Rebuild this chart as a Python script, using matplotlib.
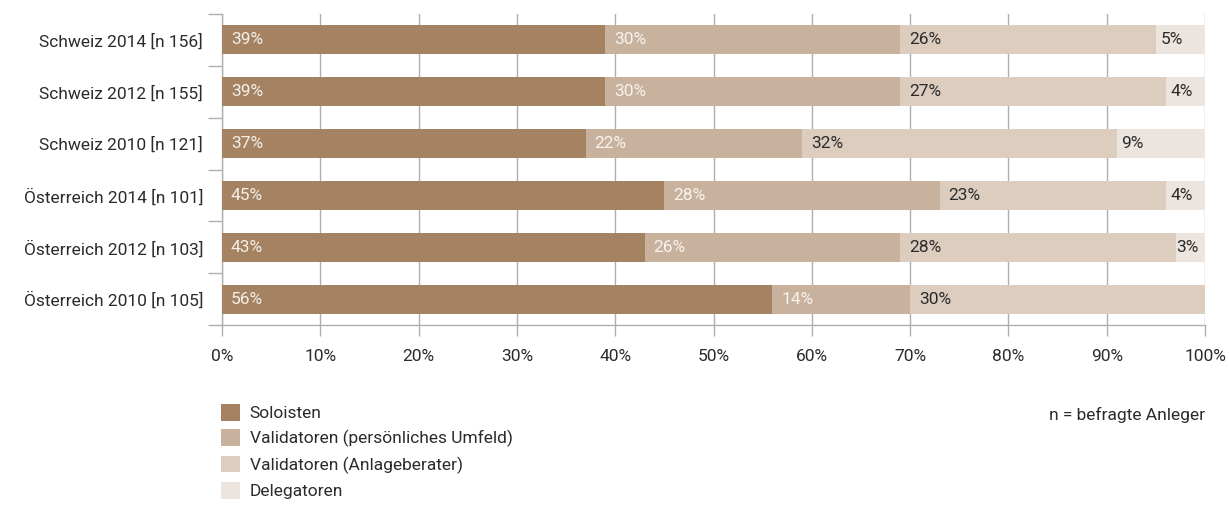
import matplotlib
matplotlib.use("Agg")
import matplotlib.pyplot as plt
from matplotlib.patches import Patch
import numpy as np

plt.rcParams['font.family'] = ['Roboto', 'DejaVu Sans']

categories = ["Schweiz 2014 [n 156]", "Schweiz 2012 [n 155]", "Schweiz 2010 [n 121]",
              "Österreich 2014 [n 101]", "Österreich 2012 [n 103]", "Österreich 2010 [n 105]"]
series_names = ["Soloisten", "Validatoren (persönliches Umfeld)",
                "Validatoren (Anlageberater)", "Delegatoren"]
soloisten = [39, 39, 37, 45, 43, 56]
validatoren_umfeld = [30, 30, 22, 28, 26, 14]
validatoren_berater = [26, 27, 32, 23, 28, 30]
delegatoren = [5, 4, 9, 4, 3, 0]
x_ticks = [0, 10, 20, 30, 40, 50, 60, 70, 80, 90, 100]
x_tick_labels = ["0%", "10%", "20%", "30%", "40%", "50%", "60%", "70%", "80%", "90%", "100%"]
note = "n = befragte Anleger"

colors = ["#A58362", "#C8B29E", "#DCCDBF", "#ECE4DE"]
label_colors = ["#F5EFE8", "#F8F3EE", "#2B2B2B", "#2B2B2B"]
text_color = "#2B2B2B"
grid_color = "#AEAEAE"
FS = 12.5

W, H = 1229, 505
fig = plt.figure(figsize=(W / 100, H / 100), dpi=100)
ax = fig.add_axes([222 / W, 1 - 325 / H, (1205 - 222) / W, (325 - 14) / H])

series = [soloisten, validatoren_umfeld, validatoren_berater, delegatoren]
y = np.arange(len(categories))
left = np.zeros(len(categories))
for vals, col, lcol in zip(series, colors, label_colors):
    vals = np.array(vals, dtype=float)
    ax.barh(y, vals, left=left, height=0.56, color=col, zorder=3, linewidth=0)
    for yi, (l, v) in enumerate(zip(left, vals)):
        if v <= 0:
            continue
        pad = 0.9 if v >= 10 else (0.45 if v > 3 else 0.1)
        ax.text(l + pad, yi, f"{int(v)}%", va="center", ha="left",
                color=lcol, fontsize=FS, zorder=4)
    left = left + vals

ax.set_xlim(0, 100)
ax.set_ylim(len(categories) - 0.5, -0.5)
ax.set_xticks(x_ticks)
ax.set_xticklabels(x_tick_labels)
ax.set_yticks(y)
ax.set_yticklabels(categories)
ax.set_yticks(np.arange(len(categories) + 1) - 0.5, minor=True)
ax.tick_params(axis="y", which="major", length=0, pad=13.5, labelsize=FS, labelcolor=text_color)
ax.tick_params(axis="y", which="minor", length=10, color=grid_color, width=1, direction="out")
ax.tick_params(axis="x", which="major", length=8, color=grid_color, width=1,
               direction="out", pad=9, labelsize=FS, labelcolor=text_color)
ax.grid(axis="x", color=grid_color, linewidth=1, zorder=0)
ax.set_axisbelow(True)
for s in ["top", "right"]:
    ax.spines[s].set_visible(False)
for s in ["left", "bottom"]:
    ax.spines[s].set_color(grid_color)
    ax.spines[s].set_linewidth(1)

handles = [Patch(facecolor=c, edgecolor="none") for c in colors]
fig.legend(handles, series_names, loc="upper left", bbox_to_anchor=(221 / W, 1 - 404 / H),
           frameon=False, fontsize=FS, handlelength=1.1, handleheight=1.1,
           labelspacing=0.47, handletextpad=0.55, borderpad=0, borderaxespad=0,
           labelcolor=text_color)

fig.text(1205 / W, 1 - 415 / H, note, ha="right", va="center", fontsize=FS, color=text_color)

fig.savefig("out.png", dpi=100)
